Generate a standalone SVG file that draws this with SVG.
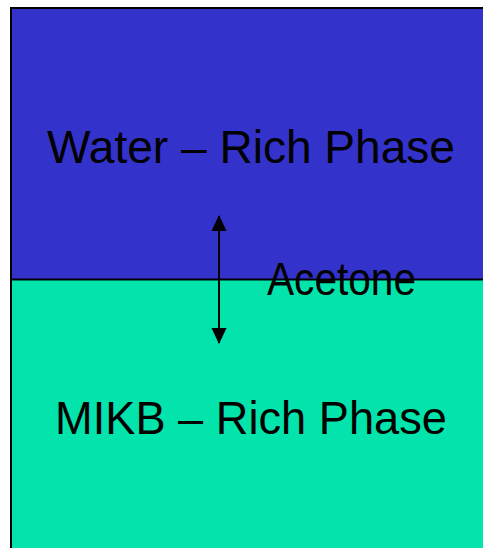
<svg xmlns="http://www.w3.org/2000/svg" width="483" height="548" viewBox="0 0 483 548">
<defs>
<style>
.lbl{font-family:"Liberation Sans",Arial,sans-serif;font-size:46px;fill:#000}
</style>
<marker id="ah" viewBox="0 0 16 16" refX="15" refY="8" markerWidth="16" markerHeight="16" markerUnits="userSpaceOnUse" orient="auto-start-reverse">
<path d="M0,0.5 L16,8 L0,15.5 Z" fill="#000"/>
</marker>
</defs>
<rect width="483" height="548" fill="#fff"/>
<g id="water-phase">
<rect x="11" y="8" width="480" height="271.5" fill="#3333CC"/>
<text class="lbl" x="47" y="163" textLength="408" lengthAdjust="spacingAndGlyphs">Water – Rich Phase</text>
</g>
<g id="mikb-phase">
<rect x="11" y="279.5" width="480" height="280" fill="#02E4AB"/>
<text class="lbl" x="55" y="434" textLength="392" lengthAdjust="spacingAndGlyphs">MIKB – Rich Phase</text>
</g>
<g id="frame">
<rect x="11" y="8" width="490" height="560" fill="none" stroke="#000" stroke-width="2"/>
<line x1="11" y1="279.5" x2="483" y2="279.5" stroke="#000" stroke-width="2"/>
</g>
<g id="connectors">
<line x1="219" y1="216" x2="219" y2="343" stroke="#000" stroke-width="2" marker-start="url(#ah)" marker-end="url(#ah)"/>
</g>
<g id="acetone">
<text class="lbl" x="267" y="295" textLength="149" lengthAdjust="spacingAndGlyphs">Acetone</text>
</g>
</svg>
